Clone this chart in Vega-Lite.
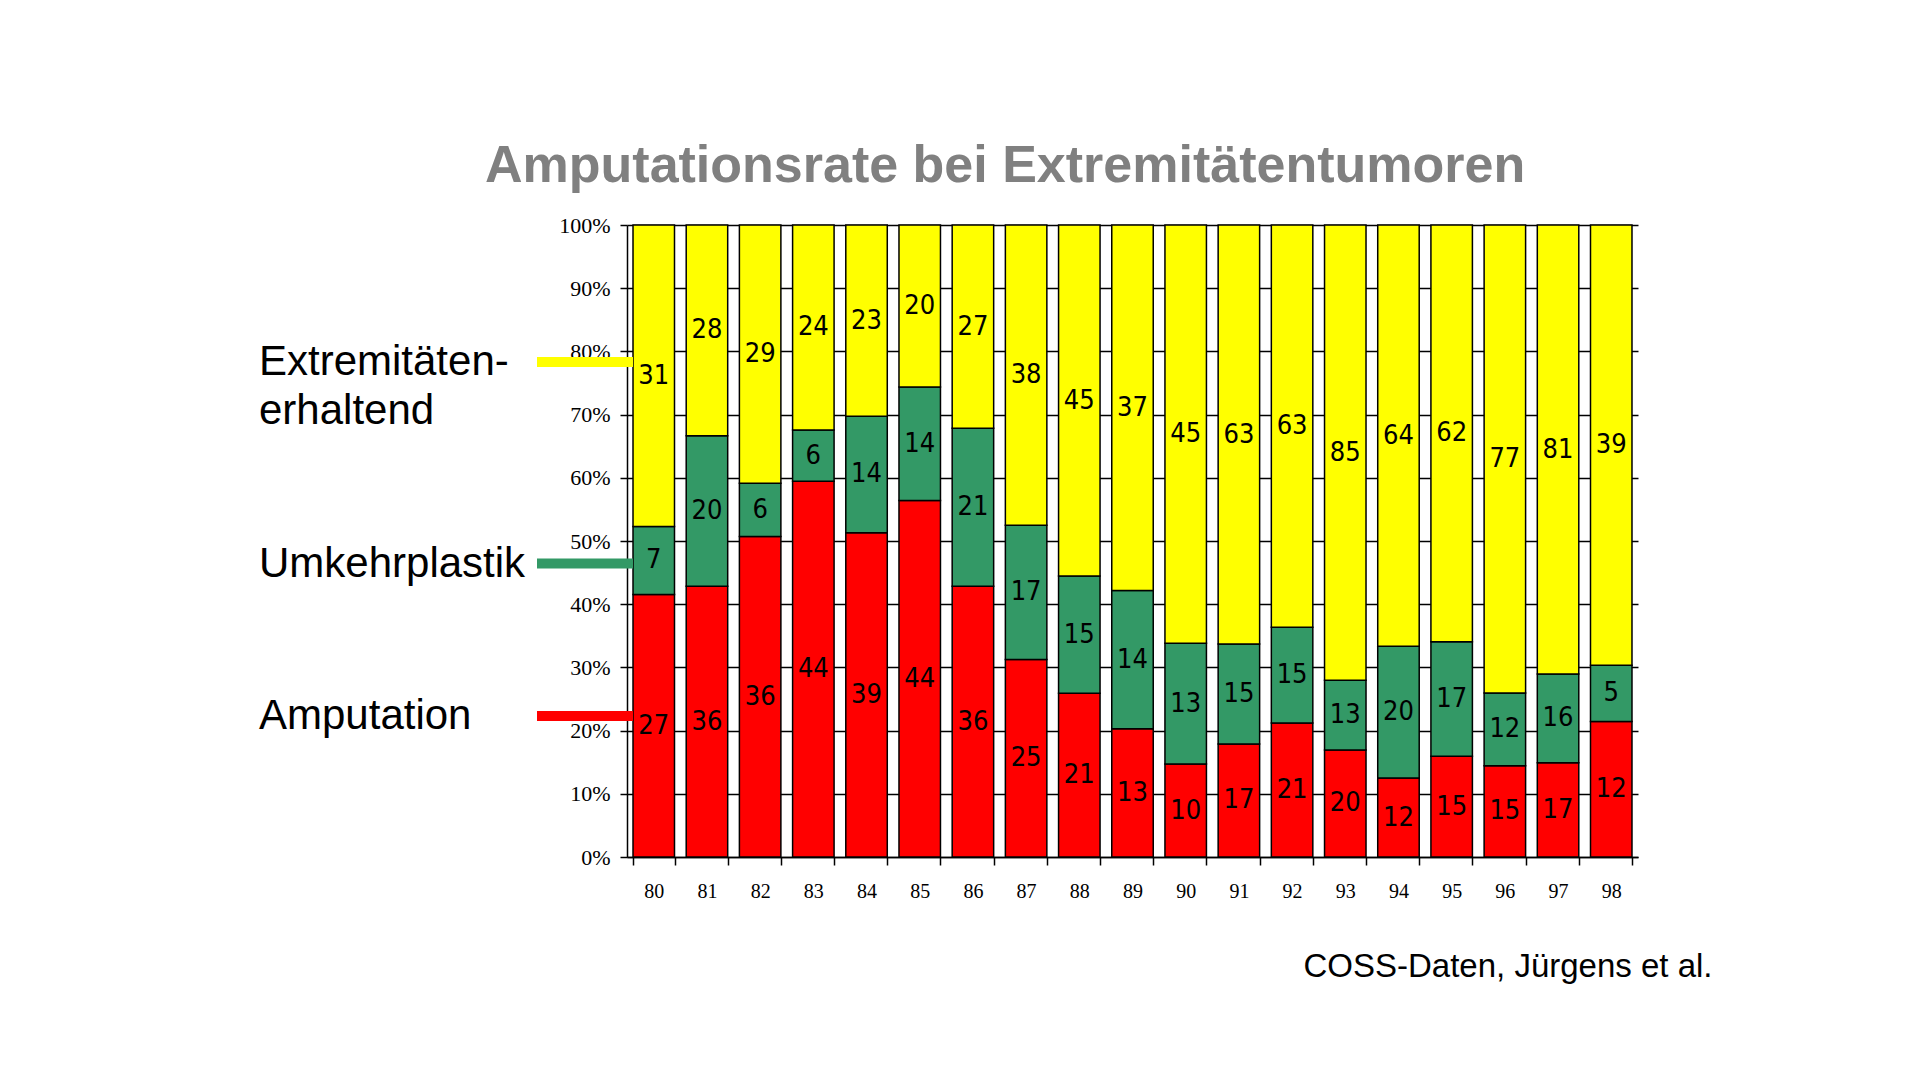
{
  "$schema": "https://vega.github.io/schema/vega-lite/v6.json",
  "width": 1011,
  "height": 632,
  "autosize": {"type": "none"},
  "padding": {"left": 627, "top": 225, "right": 282, "bottom": 223},
  "background": "white",
  "title": {
    "text": "Amputationsrate bei Extremitätentumoren",
    "font": "Liberation Sans",
    "fontSize": 52,
    "fontWeight": "bold",
    "color": "#808080",
    "anchor": "start",
    "frame": "group",
    "dx": -142,
    "offset": -20,
    "baseline": "alphabetic"
  },
  "data": {
    "values": [
      {"year": "80", "cat": "Amputation", "n": 27, "ord": 1},
      {"year": "80", "cat": "Umkehrplastik", "n": 7, "ord": 2},
      {"year": "80", "cat": "Extremitätenerhaltend", "n": 31, "ord": 3},
      {"year": "81", "cat": "Amputation", "n": 36, "ord": 1},
      {"year": "81", "cat": "Umkehrplastik", "n": 20, "ord": 2},
      {"year": "81", "cat": "Extremitätenerhaltend", "n": 28, "ord": 3},
      {"year": "82", "cat": "Amputation", "n": 36, "ord": 1},
      {"year": "82", "cat": "Umkehrplastik", "n": 6, "ord": 2},
      {"year": "82", "cat": "Extremitätenerhaltend", "n": 29, "ord": 3},
      {"year": "83", "cat": "Amputation", "n": 44, "ord": 1},
      {"year": "83", "cat": "Umkehrplastik", "n": 6, "ord": 2},
      {"year": "83", "cat": "Extremitätenerhaltend", "n": 24, "ord": 3},
      {"year": "84", "cat": "Amputation", "n": 39, "ord": 1},
      {"year": "84", "cat": "Umkehrplastik", "n": 14, "ord": 2},
      {"year": "84", "cat": "Extremitätenerhaltend", "n": 23, "ord": 3},
      {"year": "85", "cat": "Amputation", "n": 44, "ord": 1},
      {"year": "85", "cat": "Umkehrplastik", "n": 14, "ord": 2},
      {"year": "85", "cat": "Extremitätenerhaltend", "n": 20, "ord": 3},
      {"year": "86", "cat": "Amputation", "n": 36, "ord": 1},
      {"year": "86", "cat": "Umkehrplastik", "n": 21, "ord": 2},
      {"year": "86", "cat": "Extremitätenerhaltend", "n": 27, "ord": 3},
      {"year": "87", "cat": "Amputation", "n": 25, "ord": 1},
      {"year": "87", "cat": "Umkehrplastik", "n": 17, "ord": 2},
      {"year": "87", "cat": "Extremitätenerhaltend", "n": 38, "ord": 3},
      {"year": "88", "cat": "Amputation", "n": 21, "ord": 1},
      {"year": "88", "cat": "Umkehrplastik", "n": 15, "ord": 2},
      {"year": "88", "cat": "Extremitätenerhaltend", "n": 45, "ord": 3},
      {"year": "89", "cat": "Amputation", "n": 13, "ord": 1},
      {"year": "89", "cat": "Umkehrplastik", "n": 14, "ord": 2},
      {"year": "89", "cat": "Extremitätenerhaltend", "n": 37, "ord": 3},
      {"year": "90", "cat": "Amputation", "n": 10, "ord": 1},
      {"year": "90", "cat": "Umkehrplastik", "n": 13, "ord": 2},
      {"year": "90", "cat": "Extremitätenerhaltend", "n": 45, "ord": 3},
      {"year": "91", "cat": "Amputation", "n": 17, "ord": 1},
      {"year": "91", "cat": "Umkehrplastik", "n": 15, "ord": 2},
      {"year": "91", "cat": "Extremitätenerhaltend", "n": 63, "ord": 3},
      {"year": "92", "cat": "Amputation", "n": 21, "ord": 1},
      {"year": "92", "cat": "Umkehrplastik", "n": 15, "ord": 2},
      {"year": "92", "cat": "Extremitätenerhaltend", "n": 63, "ord": 3},
      {"year": "93", "cat": "Amputation", "n": 20, "ord": 1},
      {"year": "93", "cat": "Umkehrplastik", "n": 13, "ord": 2},
      {"year": "93", "cat": "Extremitätenerhaltend", "n": 85, "ord": 3},
      {"year": "94", "cat": "Amputation", "n": 12, "ord": 1},
      {"year": "94", "cat": "Umkehrplastik", "n": 20, "ord": 2},
      {"year": "94", "cat": "Extremitätenerhaltend", "n": 64, "ord": 3},
      {"year": "95", "cat": "Amputation", "n": 15, "ord": 1},
      {"year": "95", "cat": "Umkehrplastik", "n": 17, "ord": 2},
      {"year": "95", "cat": "Extremitätenerhaltend", "n": 62, "ord": 3},
      {"year": "96", "cat": "Amputation", "n": 15, "ord": 1},
      {"year": "96", "cat": "Umkehrplastik", "n": 12, "ord": 2},
      {"year": "96", "cat": "Extremitätenerhaltend", "n": 77, "ord": 3},
      {"year": "97", "cat": "Amputation", "n": 17, "ord": 1},
      {"year": "97", "cat": "Umkehrplastik", "n": 16, "ord": 2},
      {"year": "97", "cat": "Extremitätenerhaltend", "n": 81, "ord": 3},
      {"year": "98", "cat": "Amputation", "n": 12, "ord": 1},
      {"year": "98", "cat": "Umkehrplastik", "n": 5, "ord": 2},
      {"year": "98", "cat": "Extremitätenerhaltend", "n": 39, "ord": 3}
    ]
  },
  "encoding": {
    "x": {
      "field": "year",
      "type": "nominal",
      "scale": {"paddingInner": 0.22, "paddingOuter": 0.113},
      "axis": {
        "grid": false,
        "domainColor": "black",
        "domainWidth": 1.5,
        "tickColor": "black",
        "tickWidth": 1.5,
        "tickSize": 8,
        "tickBand": "extent",
        "labelFont": "Liberation Serif",
        "labelFontSize": 20,
        "labelColor": "black",
        "labelAngle": 0,
        "labelPadding": 16,
        "title": "COSS-Daten, Jürgens et al.",
        "titleFont": "Liberation Sans",
        "titleFontSize": 33,
        "titleFontWeight": "normal",
        "titleColor": "black",
        "titleX": 1085,
        "titleY": 119,
        "titleAlign": "right",
        "titleBaseline": "alphabetic"
      }
    },
    "y": {
      "field": "n",
      "type": "quantitative",
      "stack": "normalize",
      "axis": {
        "values": [0, 0.1, 0.2, 0.3, 0.4, 0.5, 0.6, 0.7, 0.8, 0.9, 1],
        "format": ".0%",
        "grid": true,
        "gridColor": "black",
        "gridWidth": 1.5,
        "domainColor": "black",
        "domainWidth": 1.5,
        "tickColor": "black",
        "tickWidth": 1.5,
        "tickSize": 7,
        "labelFont": "Liberation Serif",
        "labelFontSize": 22,
        "labelColor": "black",
        "labelPadding": 10,
        "title": null
      }
    },
    "order": {"field": "ord", "type": "quantitative"}
  },
  "layer": [
    {
      "mark": {"type": "bar", "stroke": "black", "strokeWidth": 1.5},
      "encoding": {
        "color": {
          "field": "cat",
          "type": "nominal",
          "scale": {
            "domain": ["Extremitätenerhaltend", "Umkehrplastik", "Amputation"],
            "range": ["#FFFF00", "#339966", "#FF0000"]
          },
          "legend": {
            "orient": "none",
            "legendX": -95,
            "legendY": 84,
            "direction": "vertical",
            "title": null,
            "padding": 0,
            "symbolType": "stroke",
            "symbolSize": 9216,
            "symbolStrokeWidth": 10,
            "symbolStrokeColor": {"expr": "scale('color', datum.value)"},
            "rowPadding": 78.5,
            "labelOffset": -379,
            "labelLimit": 0,
            "labelFont": "Liberation Sans",
            "labelFontSize": 42,
            "labelColor": "black",
            "labelBaseline": "middle",
            "labelExpr": "datum.label == 'Extremitätenerhaltend' ? ['Extremitäten-', 'erhaltend'] : datum.label"
          }
        }
      }
    },
    {
      "mark": {
        "type": "text",
        "font": "Liberation Sans Narrow, DejaVu Sans Condensed, Liberation Sans",
        "fontSize": 27,
        "color": "black",
        "baseline": "middle"
      },
      "encoding": {
        "y": {
          "field": "n",
          "type": "quantitative",
          "stack": "normalize",
          "bandPosition": 0.5
        },
        "detail": {"field": "cat", "type": "nominal"},
        "text": {"field": "n", "type": "quantitative"}
      }
    }
  ],
  "config": {
    "view": {"stroke": null},
    "style": {"guide-label": {"lineHeight": 49}}
  }
}
